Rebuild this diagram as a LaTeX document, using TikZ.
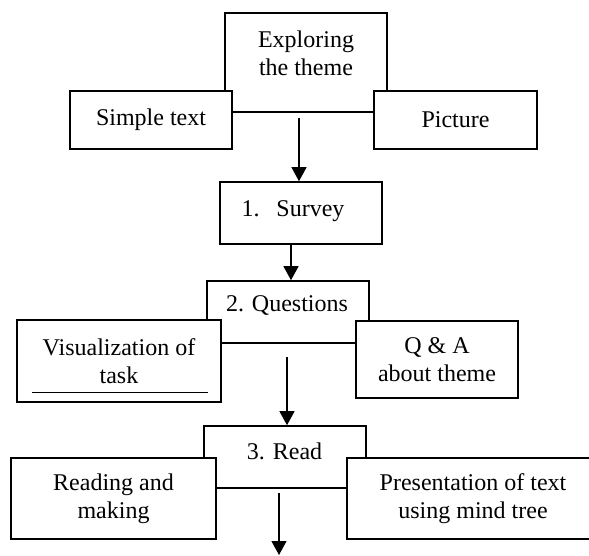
\documentclass[tikz,border=0pt]{standalone}
\usepackage{fontspec}
\setmainfont{Liberation Serif}
\usetikzlibrary{arrows.meta}

\begin{document}
\begin{tikzpicture}[x=0.5pt, y=-0.5pt,
    box/.style={draw, line width=0.8pt, fill=white, align=center, inner sep=0pt,
        font=\fontsize{12pt}{14pt}\selectfont},
    txt/.style={align=center, inner sep=0pt, font=\fontsize{12pt}{14pt}\selectfont},
    arr/.style={-{Triangle[width=7.5pt,length=7pt]}, line width=0.6pt}]
            \clip (0,0) rectangle (589,556);

            \node[box, minimum width=81pt, minimum height=49.5pt] (a1) at (306, 62.5) {};
            \node[txt] (a1t) at (306, 53) {Exploring\\the theme};
            \node[box, minimum width=81pt, minimum height=29pt] (a2) at (151, 120) {Simple text};
            \node[box, minimum width=81.5pt, minimum height=29pt] (a3) at (455.5, 120) {Picture};

            \node[box, minimum width=81pt, minimum height=31pt] (b1) at (301, 213) {};
            \node[txt] (b1t) at (293, 211) {1.\hspace{8.5pt}Survey};

            \node[box, minimum width=81pt, minimum height=31pt] (c1) at (288, 312) {};
            \node[txt] (c1t) at (287, 305) {2. Questions};
            \node[box, minimum width=102pt, minimum height=41pt] (c2) at (119, 361) {Visualization of\\task};
            \node[box, minimum width=81pt, minimum height=38.5pt] (c3) at (437, 359.5) {Q \& A\\about theme};
            \draw[line width=0.6pt] ([shift={(16,-10)}]c2.south west) -- ([shift={(-14,-10)}]c2.south east);

            \node[box, minimum width=81pt, minimum height=31pt] (d1) at (285, 457) {};
            \node[txt] (d1t) at (284.5, 451) {3. Read};
            \node[box, minimum width=102.5pt, minimum height=40.5pt] (d2) at (113.5, 498.5) {Reading and\\making};
            \node[box, minimum width=126pt, minimum height=40.5pt] (d3) at (473, 498.5) {Presentation of text\\using mind tree};

            \coordinate (e1) at (299, 118);
            \coordinate (e2) at (291, 244);
            \coordinate (e3) at (287, 357);
            \coordinate (e4) at (279, 493);
            \coordinate (e5) at (279, 555);

            \draw[arr] (e1) to (e1 |- b1.north);
            \draw[arr] (e2) to (e2 |- c1.north);
            \draw[arr] (e3) to (e3 |- d1.north);
            \draw[arr] (e4) to (e5);
        \end{tikzpicture}
\end{document}
